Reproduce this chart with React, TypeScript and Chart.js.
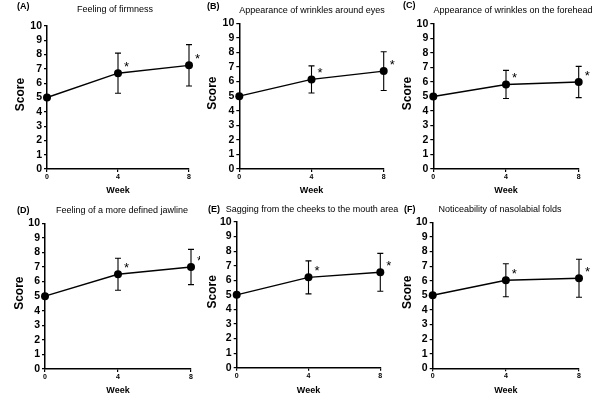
import React, { useEffect, useRef } from "react";
import { Chart, registerables } from "chart.js";

Chart.register(...registerables);

const FONT = "'Liberation Sans', Arial, Helvetica, sans-serif";

// ---- data ----
const weeks = [0, 4, 8];
const panelLetters = ["(A)", "(B)", "(C)", "(D)", "(E)", "(F)"];
const panelTitles = [
  "Feeling of firmness",
  "Appearance of wrinkles around eyes",
  "Appearance of wrinkles on the forehead",
  "Feeling of a more defined jawline",
  "Sagging from the cheeks to the mouth area",
  "Noticeability of nasolabial folds",
];
const meansA = [5, 6.7, 7.25];
const sdA = [0, 1.4, 1.45];
const meansB = [5, 6.15, 6.72];
const sdB = [0, 0.93, 1.33];
const meansC = [5, 5.83, 6.0];
const sdC = [0, 0.97, 1.08];
const meansD = [5, 6.5, 7.0];
const sdD = [0, 1.1, 1.21];
const meansE = [5, 6.2, 6.55];
const sdE = [0, 1.13, 1.3];
const meansF = [5, 6.03, 6.17];
const sdF = [0, 1.13, 1.3];
const significant = [false, true, true];
const yMin = 0;
const yMax = 10;
const xTickStep = 4;
const yTickStep = 1;
const xAxisTitle = "Week";
const yAxisTitle = "Score";

const allMeans = [meansA, meansB, meansC, meansD, meansE, meansF];
const allSd = [sdA, sdB, sdC, sdD, sdE, sdF];

// ---- layout (pixels, local to each panel) ----
type Layout = {
  x0: number; y0: number; w: number; h: number;
  left: number; right: number; top: number; bottom: number;
  labelX: number; labelY: number; titleX: number; titleY: number;
  scoreX: number;
};
const layouts: Layout[] = [
  { x0: 0, y0: 0, w: 200, h: 200, left: 47, right: 189, top: 26, bottom: 169, labelX: 17, labelY: 7, titleX: 115, titleY: 10, scoreX: 20.7 },
  { x0: 200, y0: 0, w: 200, h: 200, left: 39.3, right: 183.7, top: 23.3, bottom: 169, labelX: 7, labelY: 7, titleX: 112, titleY: 11, scoreX: 12.7 },
  { x0: 400, y0: 0, w: 200, h: 200, left: 33.3, right: 178.7, top: 24, bottom: 169, labelX: 3, labelY: 6, titleX: 113, titleY: 11, scoreX: 7.5 },
  { x0: 0, y0: 200, w: 200, h: 199, left: 45, right: 191, top: 23.3, bottom: 169, labelX: 17, labelY: 11, titleX: 122, titleY: 11, scoreX: 20 },
  { x0: 200, y0: 200, w: 200, h: 199, left: 36.7, right: 180.3, top: 22, bottom: 167.7, labelX: 8, labelY: 10, titleX: 112, titleY: 10, scoreX: 12.5 },
  { x0: 400, y0: 200, w: 200, h: 199, left: 32.7, right: 179, top: 22.3, bottom: 168.3, labelX: 4, labelY: 10, titleX: 100, titleY: 10, scoreX: 7.5 },
];

function makePlugin(idx: number) {
  const means = allMeans[idx];
  const sd = allSd[idx];
  const L = layouts[idx];
  return {
    id: "annot" + idx,
    beforeDatasetsDraw(chart: any) {
      const { ctx } = chart;
      const xs = chart.scales.x;
      const ys = chart.scales.y;
      ctx.save();
      ctx.strokeStyle = "#000";
      ctx.lineWidth = 1.1;
      means.forEach((m, i) => {
        const e = sd[i];
        if (!e) return;
        const x = xs.getPixelForValue(weeks[i]);
        const yt = ys.getPixelForValue(m + e);
        const yb = ys.getPixelForValue(m - e);
        ctx.beginPath();
        ctx.moveTo(x, yt);
        ctx.lineTo(x, yb);
        ctx.moveTo(x - 3, yt);
        ctx.lineTo(x + 3, yt);
        ctx.moveTo(x - 3, yb);
        ctx.lineTo(x + 3, yb);
        ctx.stroke();
      });
      ctx.restore();
    },
    afterDraw(chart: any) {
      const { ctx, chartArea } = chart;
      const xs = chart.scales.x;
      const ys = chart.scales.y;
      ctx.save();
      ctx.fillStyle = "#000";
      // asterisks
      ctx.font = `13px ${FONT}`;
      ctx.textAlign = "center";
      ctx.textBaseline = "alphabetic";
      means.forEach((m, i) => {
        if (!significant[i]) return;
        const x = xs.getPixelForValue(weeks[i]);
        const y = ys.getPixelForValue(m);
        ctx.fillText("*", x + 8.5, y - 2);
      });
      // panel letter
      ctx.font = `bold 9px ${FONT}`;
      ctx.textAlign = "left";
      ctx.textBaseline = "middle";
      ctx.fillText(panelLetters[idx], L.labelX, L.labelY);
      // title
      ctx.font = `9px ${FONT}`;
      ctx.textAlign = "center";
      ctx.fillText(panelTitles[idx], L.titleX, L.titleY);
      // x axis title
      ctx.font = `bold 9px ${FONT}`;
      ctx.fillText(xAxisTitle, (chartArea.left + chartArea.right) / 2, L.h - (L.h === 200 ? 9.3 : 8.3));
      // y axis title
      ctx.translate(L.scoreX, (chartArea.top + chartArea.bottom) / 2 - 3);
      ctx.rotate(-Math.PI / 2);
      ctx.font = `bold 12px ${FONT}`;
      ctx.fillText(yAxisTitle, 0, 0);
      ctx.restore();
    },
  };
}

function Panel({ idx }: { idx: number }) {
  const ref = useRef<HTMLCanvasElement>(null);
  const L = layouts[idx];
  useEffect(() => {
    const canvas = ref.current!;
    const means = allMeans[idx];
    const chart = new Chart(canvas, {
      type: "line",
      data: {
        datasets: [
          {
            data: weeks.map((w, i) => ({ x: w, y: means[i] })),
            borderColor: "#000",
            borderWidth: 1.4,
            pointRadius: 4,
            pointBackgroundColor: "#000",
            pointBorderColor: "#000",
            pointBorderWidth: 0,
            tension: 0,
            clip: false as any,
          },
        ],
      },
      options: {
        responsive: false,
        animation: false,
        devicePixelRatio: 1,
        layout: { padding: { left: 0, top: L.top, right: L.w - L.right, bottom: 0 } },
        plugins: { legend: { display: false }, tooltip: { enabled: false }, title: { display: false } },
        scales: {
          x: {
            type: "linear",
            min: weeks[0],
            max: weeks[weeks.length - 1],
            ticks: { stepSize: xTickStep, autoSkip: false, maxRotation: 0, color: "#000", padding: 1, font: { size: 7, weight: "bold", family: FONT } },
            grid: { drawOnChartArea: false, drawTicks: true, tickLength: 3, color: "#000", lineWidth: 1.2 },
            border: { display: true, color: "#000", width: 1.5 },
            afterFit: (s: any) => { s.height = L.h - L.bottom; },
          },
          y: {
            type: "linear",
            min: yMin,
            max: yMax,
            ticks: { stepSize: yTickStep, autoSkip: false, color: "#000", padding: 2, font: { size: 10.5, weight: "bold", family: FONT } },
            grid: { drawOnChartArea: false, drawTicks: true, tickLength: 3, color: "#000", lineWidth: 1.2 },
            border: { display: true, color: "#000", width: 1.5 },
            afterFit: (s: any) => { s.width = L.left; },
          },
        },
      } as any,
      plugins: [makePlugin(idx)],
    });
    return () => chart.destroy();
  }, [idx]);
  return (
    <div style={{ position: "absolute", left: L.x0, top: L.y0, width: L.w, height: L.h }}>
      <canvas ref={ref} width={L.w} height={L.h} style={{ display: "block" }} />
    </div>
  );
}

export default function App() {
  return (
    <div style={{ position: "absolute", left: 0, top: 0, width: 600, height: 399, background: "#fff", overflow: "hidden" }}>
      {layouts.map((_, i) => (
        <Panel key={i} idx={i} />
      ))}
    </div>
  );
}
